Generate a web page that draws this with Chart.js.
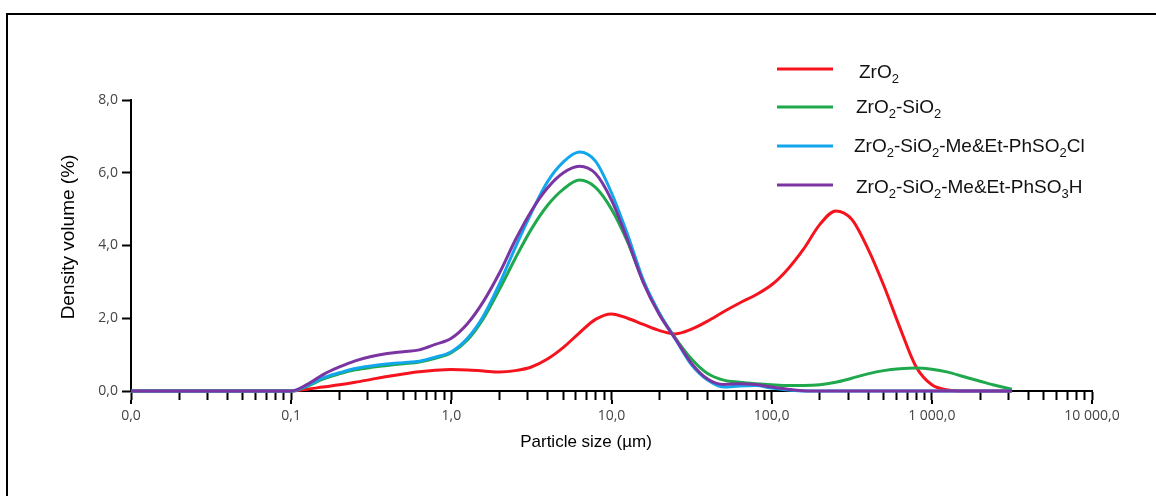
<!DOCTYPE html>
<html>
<head>
<meta charset="utf-8">
<script src="https://cdn.jsdelivr.net/npm/chart.js@4.4.1/dist/chart.umd.min.js"></script>
<style>
  html, body { margin: 0; padding: 0; background: #fff; }
  #wrap { position: relative; width: 1156px; height: 496px; overflow: hidden; }
  #frame { position: absolute; left: 6px; top: 13px; width: 1300px; height: 700px;
           border-top: 2px solid #000; border-left: 2px solid #000; }
  #c { position: absolute; left: 0; top: 0; }
</style>
</head>
<body>
<div id="wrap">
  <div id="frame"></div>
  <canvas id="c" width="1156" height="496"></canvas>
</div>
<script>
// Particle size classes (µm), ten per decade from 0.1 µm
const particleSize = [0.01,
  0.1, 0.126, 0.158, 0.2, 0.251, 0.316, 0.398, 0.501, 0.631, 0.794,
  1, 1.26, 1.58, 2, 2.51, 3.16, 3.98, 5.01, 6.31, 7.94,
  10, 12.6, 15.8, 20, 25.1, 31.6, 39.8, 50.1, 63.1, 79.4,
  100, 126, 158, 200, 251, 316, 398, 501, 631, 794,
  1000, 1259, 1585, 1995, 2512, 3162];

// Density volume (%) per sample
const zro2 = [0,
  0, 0.05, 0.11, 0.17, 0.24, 0.32, 0.40, 0.47, 0.53, 0.57,
  0.59, 0.58, 0.55, 0.52, 0.56, 0.66, 0.88, 1.20, 1.60, 1.97,
  2.12, 2.00, 1.83, 1.66, 1.57, 1.70, 1.92, 2.18, 2.42, 2.64,
  2.92, 3.35, 3.90, 4.58, 4.95, 4.72, 3.92, 2.90, 1.75, 0.68,
  0.17, 0.03, 0, 0, 0, 0];
const zro2Sio2 = [0,
  0, 0.13, 0.33, 0.47, 0.58, 0.65, 0.70, 0.75, 0.80, 0.90,
  1.05, 1.40, 1.98, 2.80, 3.65, 4.45, 5.10, 5.55, 5.80, 5.60,
  5.00, 4.10, 3.00, 2.12, 1.45, 0.88, 0.48, 0.30, 0.24, 0.20,
  0.17, 0.15, 0.15, 0.17, 0.24, 0.35, 0.47, 0.56, 0.61, 0.63,
  0.60, 0.52, 0.39, 0.27, 0.15, 0.05];
const zro2Sio2SO2Cl = [0,
  0, 0.15, 0.36, 0.50, 0.62, 0.69, 0.74, 0.78, 0.82, 0.93,
  1.08, 1.45, 2.05, 2.95, 3.95, 4.90, 5.75, 6.30, 6.57, 6.32,
  5.45, 4.30, 3.05, 2.12, 1.42, 0.72, 0.30, 0.11, 0.14, 0.15,
  0.08, 0.03, 0, 0, 0, 0, 0, 0, 0, 0,
  0, 0, 0, 0, 0, 0];
const zro2Sio2SO3H = [0,
  0, 0.18, 0.45, 0.66, 0.83, 0.95, 1.03, 1.08, 1.13, 1.28,
  1.45, 1.85, 2.45, 3.25, 4.15, 4.95, 5.58, 6.00, 6.18, 5.98,
  5.25, 4.15, 2.98, 2.08, 1.43, 0.76, 0.33, 0.18, 0.20, 0.18,
  0.11, 0.05, 0.01, 0, 0, 0, 0, 0, 0, 0,
  0, 0, 0, 0, 0, 0];

// Series names; "_n" marks a subscript digit
const seriesNames = ["ZrO_2", "ZrO_2-SiO_2", "ZrO_2-SiO_2-Me&Et-PhSO_2Cl", "ZrO_2-SiO_2-Me&Et-PhSO_3H"];
const seriesColors = ["#f5141e", "#1fa84c", "#12a7ec", "#7a35a3"];

// Axis ticks
const xMajorTicks = [0.01, 0.1, 1, 10, 100, 1000, 10000];
const xMajorLabels = ["0,0", "0,1", "1,0", "10,0", "100,0", "1 000,0", "10 000,0"];
const yTickValues = [0, 2, 4, 6, 8];
const yTickLabels = ["0,0", "2,0", "4,0", "6,0", "8,0"];

const xTitle = "Particle size (µm)";
const yTitle = "Density volume (%)";

const plain = s => s.replace(/_(\d)/g, "$1");

function series(values, idx, order) {
  return {
    label: plain(seriesNames[idx]),
    richLabel: seriesNames[idx],
    data: particleSize.map((x, i) => ({ x, y: values[i] })),
    borderColor: seriesColors[idx],
    backgroundColor: seriesColors[idx],
    borderWidth: 3,
    pointRadius: 0,
    cubicInterpolationMode: "monotone",
    fill: false,
    clip: false,
    order
  };
}

// Draws a label whose "_n" parts are set as subscripts
function drawRich(ctx, text, x, y, size, subSize, subDrop) {
  const parts = text.split(/_(\d)/);
  ctx.textBaseline = "alphabetic";
  ctx.textAlign = "left";
  parts.forEach((p, i) => {
    if (!p) return;
    const sub = i % 2 === 1;
    ctx.font = (sub ? subSize : size) + "px 'Liberation Sans', Arial, sans-serif";
    ctx.fillText(p, x, sub ? y + subDrop : y);
    x += ctx.measureText(p).width;
  });
}

const richLegend = {
  id: "richLegend",
  afterDraw(chart, args, o) {
    const ctx = chart.ctx;
    ctx.save();
    chart.data.datasets.forEach((ds, i) => {
      const y = o.rows[i];
      ctx.strokeStyle = ds.borderColor;
      ctx.lineWidth = 3;
      ctx.beginPath();
      ctx.moveTo(o.lineX0, y);
      ctx.lineTo(o.lineX1, y);
      ctx.stroke();
      ctx.fillStyle = "#111";
      drawRich(ctx, ds.richLabel, o.textX[i], o.baselines[i], o.size, o.subSize, o.subDrop);
    });
    ctx.restore();
  }
};

// Axis titles and the longer decade ticks
const axisDecor = {
  id: "axisDecor",
  beforeDatasetsDraw(chart, args, o) {
    const ctx = chart.ctx;
    const xs = chart.scales.x, area = chart.chartArea;
    ctx.save();
    ctx.strokeStyle = "#000";
    ctx.lineWidth = 2;
    xMajorTicks.forEach(v => {
      const px = Math.round(xs.getPixelForValue(v));
      ctx.beginPath();
      ctx.moveTo(px, area.bottom + o.minorLen);
      ctx.lineTo(px, area.bottom + o.majorLen);
      ctx.stroke();
    });
    ctx.fillStyle = "#000";
    ctx.font = o.xTitleSize + "px 'Liberation Sans', Arial, sans-serif";
    ctx.textAlign = "center";
    ctx.textBaseline = "alphabetic";
    ctx.fillText(xTitle, o.xTitleX, o.xTitleY);
    ctx.translate(o.yTitleX, o.yTitleY);
    ctx.rotate(-Math.PI / 2);
    ctx.font = o.yTitleSize + "px 'Liberation Sans', Arial, sans-serif";
    ctx.fillText(yTitle, 0, 0);
    ctx.restore();
  }
};

new Chart(document.getElementById("c"), {
  type: "line",
  data: {
    datasets: [
      series(zro2, 0, 3),
      series(zro2Sio2, 1, 2),
      series(zro2Sio2SO2Cl, 2, 1),
      series(zro2Sio2SO3H, 3, 0)
    ]
  },
  options: {
    responsive: false,
    animation: false,
    devicePixelRatio: 1,
    layout: { padding: { left: 0, right: 64, top: 100, bottom: 0 } },
    plugins: {
      legend: { display: false },
      tooltip: { enabled: false },
      richLegend: {
        lineX0: 777, lineX1: 833,
        rows: [69, 107, 146, 185],
        textX: [859, 856, 854, 856],
        baselines: [78, 113, 152, 193],
        size: 19, subSize: 13, subDrop: 5
      },
      axisDecor: {
        minorLen: 9, majorLen: 13,
        xTitleSize: 17, xTitleX: 586, xTitleY: 447,
        yTitleSize: 19, yTitleX: 74, yTitleY: 237
      }
    },
    scales: {
      x: {
        type: "logarithmic",
        min: 0.01,
        max: 10000,
        afterFit(s) { s.height = 105; },
        afterBuildTicks(s) {
          const t = [];
          for (let e = -2; e <= 3; e++) {
            for (let k = 1; k <= 9; k++) t.push({ value: +(k * Math.pow(10, e)).toPrecision(3) });
          }
          t.push({ value: 10000 });
          s.ticks = t;
        },
        ticks: {
          autoSkip: false,
          maxRotation: 0,
          padding: 8,
          color: "#444",
          font: { family: "'Open Sans', sans-serif", size: 14 },
          callback(v) {
            const i = xMajorTicks.findIndex(m => Math.abs(m - v) / m < 1e-6);
            return i >= 0 ? xMajorLabels[i] : "";
          }
        },
        grid: { display: true, drawOnChartArea: false, drawTicks: true, tickLength: 9, tickWidth: 2, tickColor: "#000" },
        border: { display: true, color: "#000", width: 2 }
      },
      y: {
        min: 0,
        max: 8,
        afterFit(s) { s.width = 131; },
        afterBuildTicks(s) { s.ticks = yTickValues.map(v => ({ value: v })); },
        ticks: {
          padding: 4,
          color: "#444",
          font: { family: "'Open Sans', sans-serif", size: 14 },
          callback(v, i) { return yTickLabels[i]; }
        },
        grid: { display: true, drawOnChartArea: false, drawTicks: true, tickLength: 9, tickWidth: 2, tickColor: "#000" },
        border: { display: true, color: "#000", width: 2 }
      }
    }
  },
  plugins: [richLegend, axisDecor]
});
</script>
</body>
</html>
